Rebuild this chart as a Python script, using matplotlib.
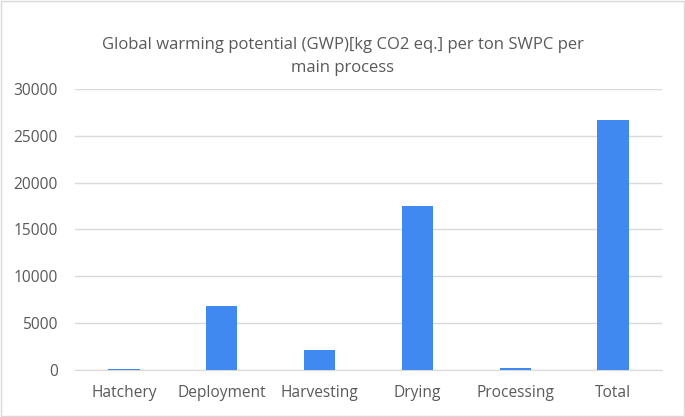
import matplotlib.pyplot as plt
import numpy as np

processes = ['Hatchery', 'Deployment', 'Harvesting', 'Drying', 'Processing', 'Total']
gwp = [100, 6800, 2150, 17500, 250, 26700]
yticks = [0, 5000, 10000, 15000, 20000, 25000, 30000]

plt.rcParams['font.family'] = ['Open Sans', 'DejaVu Sans']

fig = plt.figure(figsize=(6.85, 4.17), dpi=100)
ax = fig.add_axes([0.1095, 0.1127, 0.857, 0.674])

x = np.arange(len(processes))
ax.bar(x, gwp, width=0.32, color='#4089f0', zorder=3)

ax.set_ylim(0, 30000)
ax.set_xlim(-0.5, len(processes) - 0.5)
ax.set_yticks(yticks)
ax.set_xticks(x)
ax.set_xticklabels(processes)
ax.grid(axis='y', color='#d9d9d9', linewidth=1, zorder=0)
for s in ['top', 'right', 'left']:
    ax.spines[s].set_visible(False)
ax.spines['bottom'].set_color('#d9d9d9')
ax.tick_params(length=0, labelsize=11.2, colors='#595959')
ax.tick_params(axis='y', pad=12.5)
ax.tick_params(axis='x', pad=11)

fig.text(0.5, 0.865, 'Global warming potential (GWP)[kg CO2 eq.] per ton SWPC per\nmain process',
         ha='center', va='center', fontsize=12, color='#595959', linespacing=1.55)

fig.patches.append(plt.Rectangle((0.002, 0.003), 0.996, 0.994, transform=fig.transFigure,
                                 fill=False, edgecolor='#d9d9d9', linewidth=1))

fig.savefig('out.png', dpi=100)
